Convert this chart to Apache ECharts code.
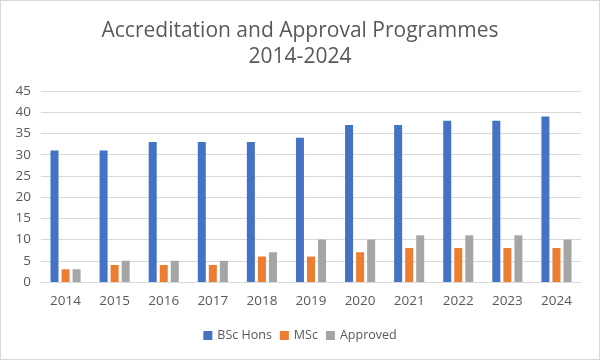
<!DOCTYPE html>
<html><head><meta charset="utf-8">
<script src="https://cdn.jsdelivr.net/npm/echarts@6/dist/echarts.min.js"></script>
<style>html,body{margin:0;padding:0;background:#fff}#c{width:600px;height:360px;box-sizing:border-box;border:1px solid #d9d9d9}</style>
</head><body><div id="c"></div>
<script>
const categories = ['2014','2015','2016','2017','2018','2019','2020','2021','2022','2023','2024'];
const bscHons = [31,31,33,33,33,34,37,37,38,38,39];
const msc = [3,4,4,4,6,6,7,8,8,8,8];
const approved = [3,5,5,5,7,10,10,11,11,11,10];
const seriesNames = ['BSc Hons','MSc','Approved'];
const colors = ['#4472C4','#ED7D31','#A5A5A5'];
const font = 'Open Sans';
const chart = echarts.init(document.getElementById('c'));
const mk = (name, data, i) => ({
  name, type:'bar', data, barWidth:8, barGap:'38%',
  itemStyle:{color:colors[i]}
});
chart.setOption({
  animation:false,
  title:{text:'Accreditation and Approval Programmes\n2014-2024', left:'center', top:12,
    textStyle:{fontFamily:font, fontSize:21, fontWeight:'normal', color:'#595959', lineHeight:26}},
  legend:{bottom:12, itemWidth:9, itemHeight:9, itemGap:8, icon:'rect',
    textStyle:{fontFamily:font, fontSize:12.5, color:'#595959'}},
  grid:{left:40, right:18, top:90, bottom:77},
  xAxis:{type:'category', data:categories,
    axisLine:{lineStyle:{color:'#d9d9d9'}}, axisTick:{show:false},
    axisLabel:{fontFamily:font, fontSize:13.5, color:'#595959', margin:12}},
  yAxis:{type:'value', min:0, max:45, interval:5,
    axisLine:{show:false}, axisTick:{show:false},
    splitLine:{lineStyle:{color:'#d9d9d9'}},
    axisLabel:{fontFamily:font, fontSize:13.5, color:'#595959', margin:10}},
  series:[mk(seriesNames[0],bscHons,0), mk(seriesNames[1],msc,1), mk(seriesNames[2],approved,2)]
});
</script></body></html>
